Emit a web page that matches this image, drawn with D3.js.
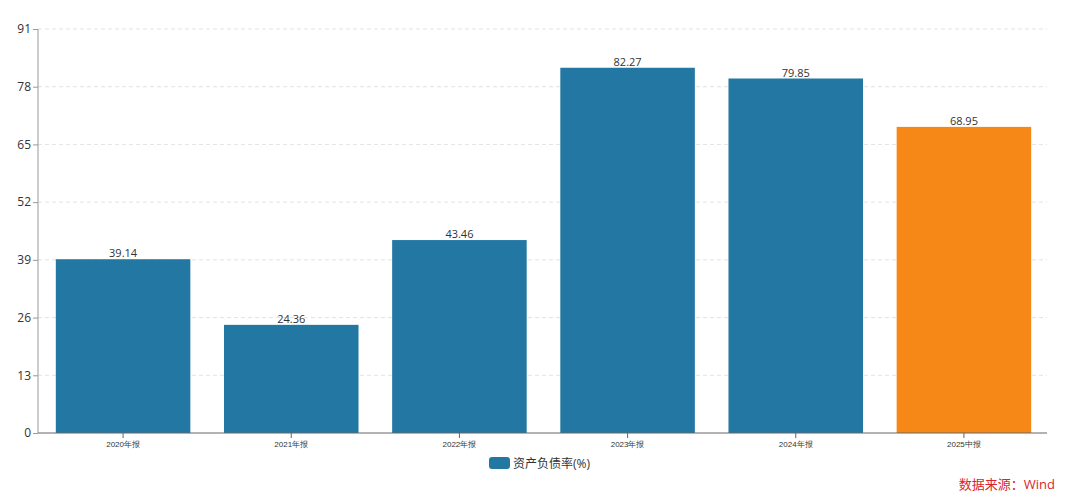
<!DOCTYPE html>
<html><head><meta charset="utf-8">
<script src="https://cdn.jsdelivr.net/npm/d3@7"></script>
<style>body{margin:0;background:#fff;}svg{display:block;font-family:"Open Sans","Noto Sans CJK SC",sans-serif;}</style>
</head><body>
<svg id="c" width="1080" height="503"></svg>
<script>
const categories = ["2020年报","2021年报","2022年报","2023年报","2024年报","2025中报"];
const values = [39.14, 24.36, 43.46, 82.27, 79.85, 68.95];
const barColors = ["#2277a3","#2277a3","#2277a3","#2277a3","#2277a3","#f68818"];
const yTicks = [0,13,26,39,52,65,78,91];
const seriesName = "资产负债率(%)";
const source = "数据来源：Wind";

const svg = d3.select("#c");
const m = {l:38, r:1047, t:29, b:433};
const x = d3.scaleBand().domain(categories).range([m.l+1, m.r+1]).paddingInner(0.2).paddingOuter(0.1);
const y = d3.scaleLinear().domain([0,91]).range([m.b, m.t]);

svg.append("g").selectAll("line").data(yTicks.filter(d=>d>0)).join("line")
  .attr("x1", m.l).attr("x2", m.r).attr("y1", d=>y(d)).attr("y2", d=>y(d))
  .attr("stroke", "#e3e3e3").attr("stroke-dasharray", "4,3");

svg.append("g").selectAll("rect").data(values).join("rect")
  .attr("x", (d,i)=>x(categories[i])).attr("width", x.bandwidth())
  .attr("y", d=>y(d)).attr("height", d=>y(0)-y(d))
  .attr("fill", (d,i)=>barColors[i]);

svg.append("g").selectAll("text").data(values).join("text")
  .attr("x", (d,i)=>x(categories[i])+x.bandwidth()/2).attr("y", d=>y(d)-2)
  .attr("text-anchor","middle").attr("font-size",11).attr("fill","#333")
  .text(d=>d.toFixed(2));

const ya = svg.append("g").attr("transform",`translate(${m.l},0)`)
  .call(d3.axisLeft(y).tickValues(yTicks).tickSize(5).tickPadding(2));
ya.selectAll("path,line").attr("stroke","#999");
ya.select(".domain").attr("d", `M0,${m.t}V${m.b}`);
ya.selectAll("text").attr("font-size",12).attr("fill","#333").attr("font-family","'Open Sans',sans-serif");

const xa = svg.append("g").attr("transform",`translate(0,${m.b})`)
  .call(d3.axisBottom(x).tickSize(5).tickSizeOuter(0).tickPadding(3));
xa.selectAll("path,line").attr("stroke","#666");
xa.select(".domain").attr("d", `M${m.l},0H${m.r}`);
xa.selectAll("text").attr("font-size",8).attr("fill","#333");

const lg = svg.append("g");
lg.append("rect").attr("x",489).attr("y",457).attr("width",21).attr("height",12).attr("rx",3).attr("fill","#2277a3");
lg.append("text").attr("x",513).attr("y",467.5).attr("font-size",12).attr("fill","#333").text(seriesName);

svg.append("text").attr("x",1055).attr("y",489).attr("text-anchor","end")
  .attr("font-size",13).attr("fill","#d9262c").text(source);
</script>
</body></html>
